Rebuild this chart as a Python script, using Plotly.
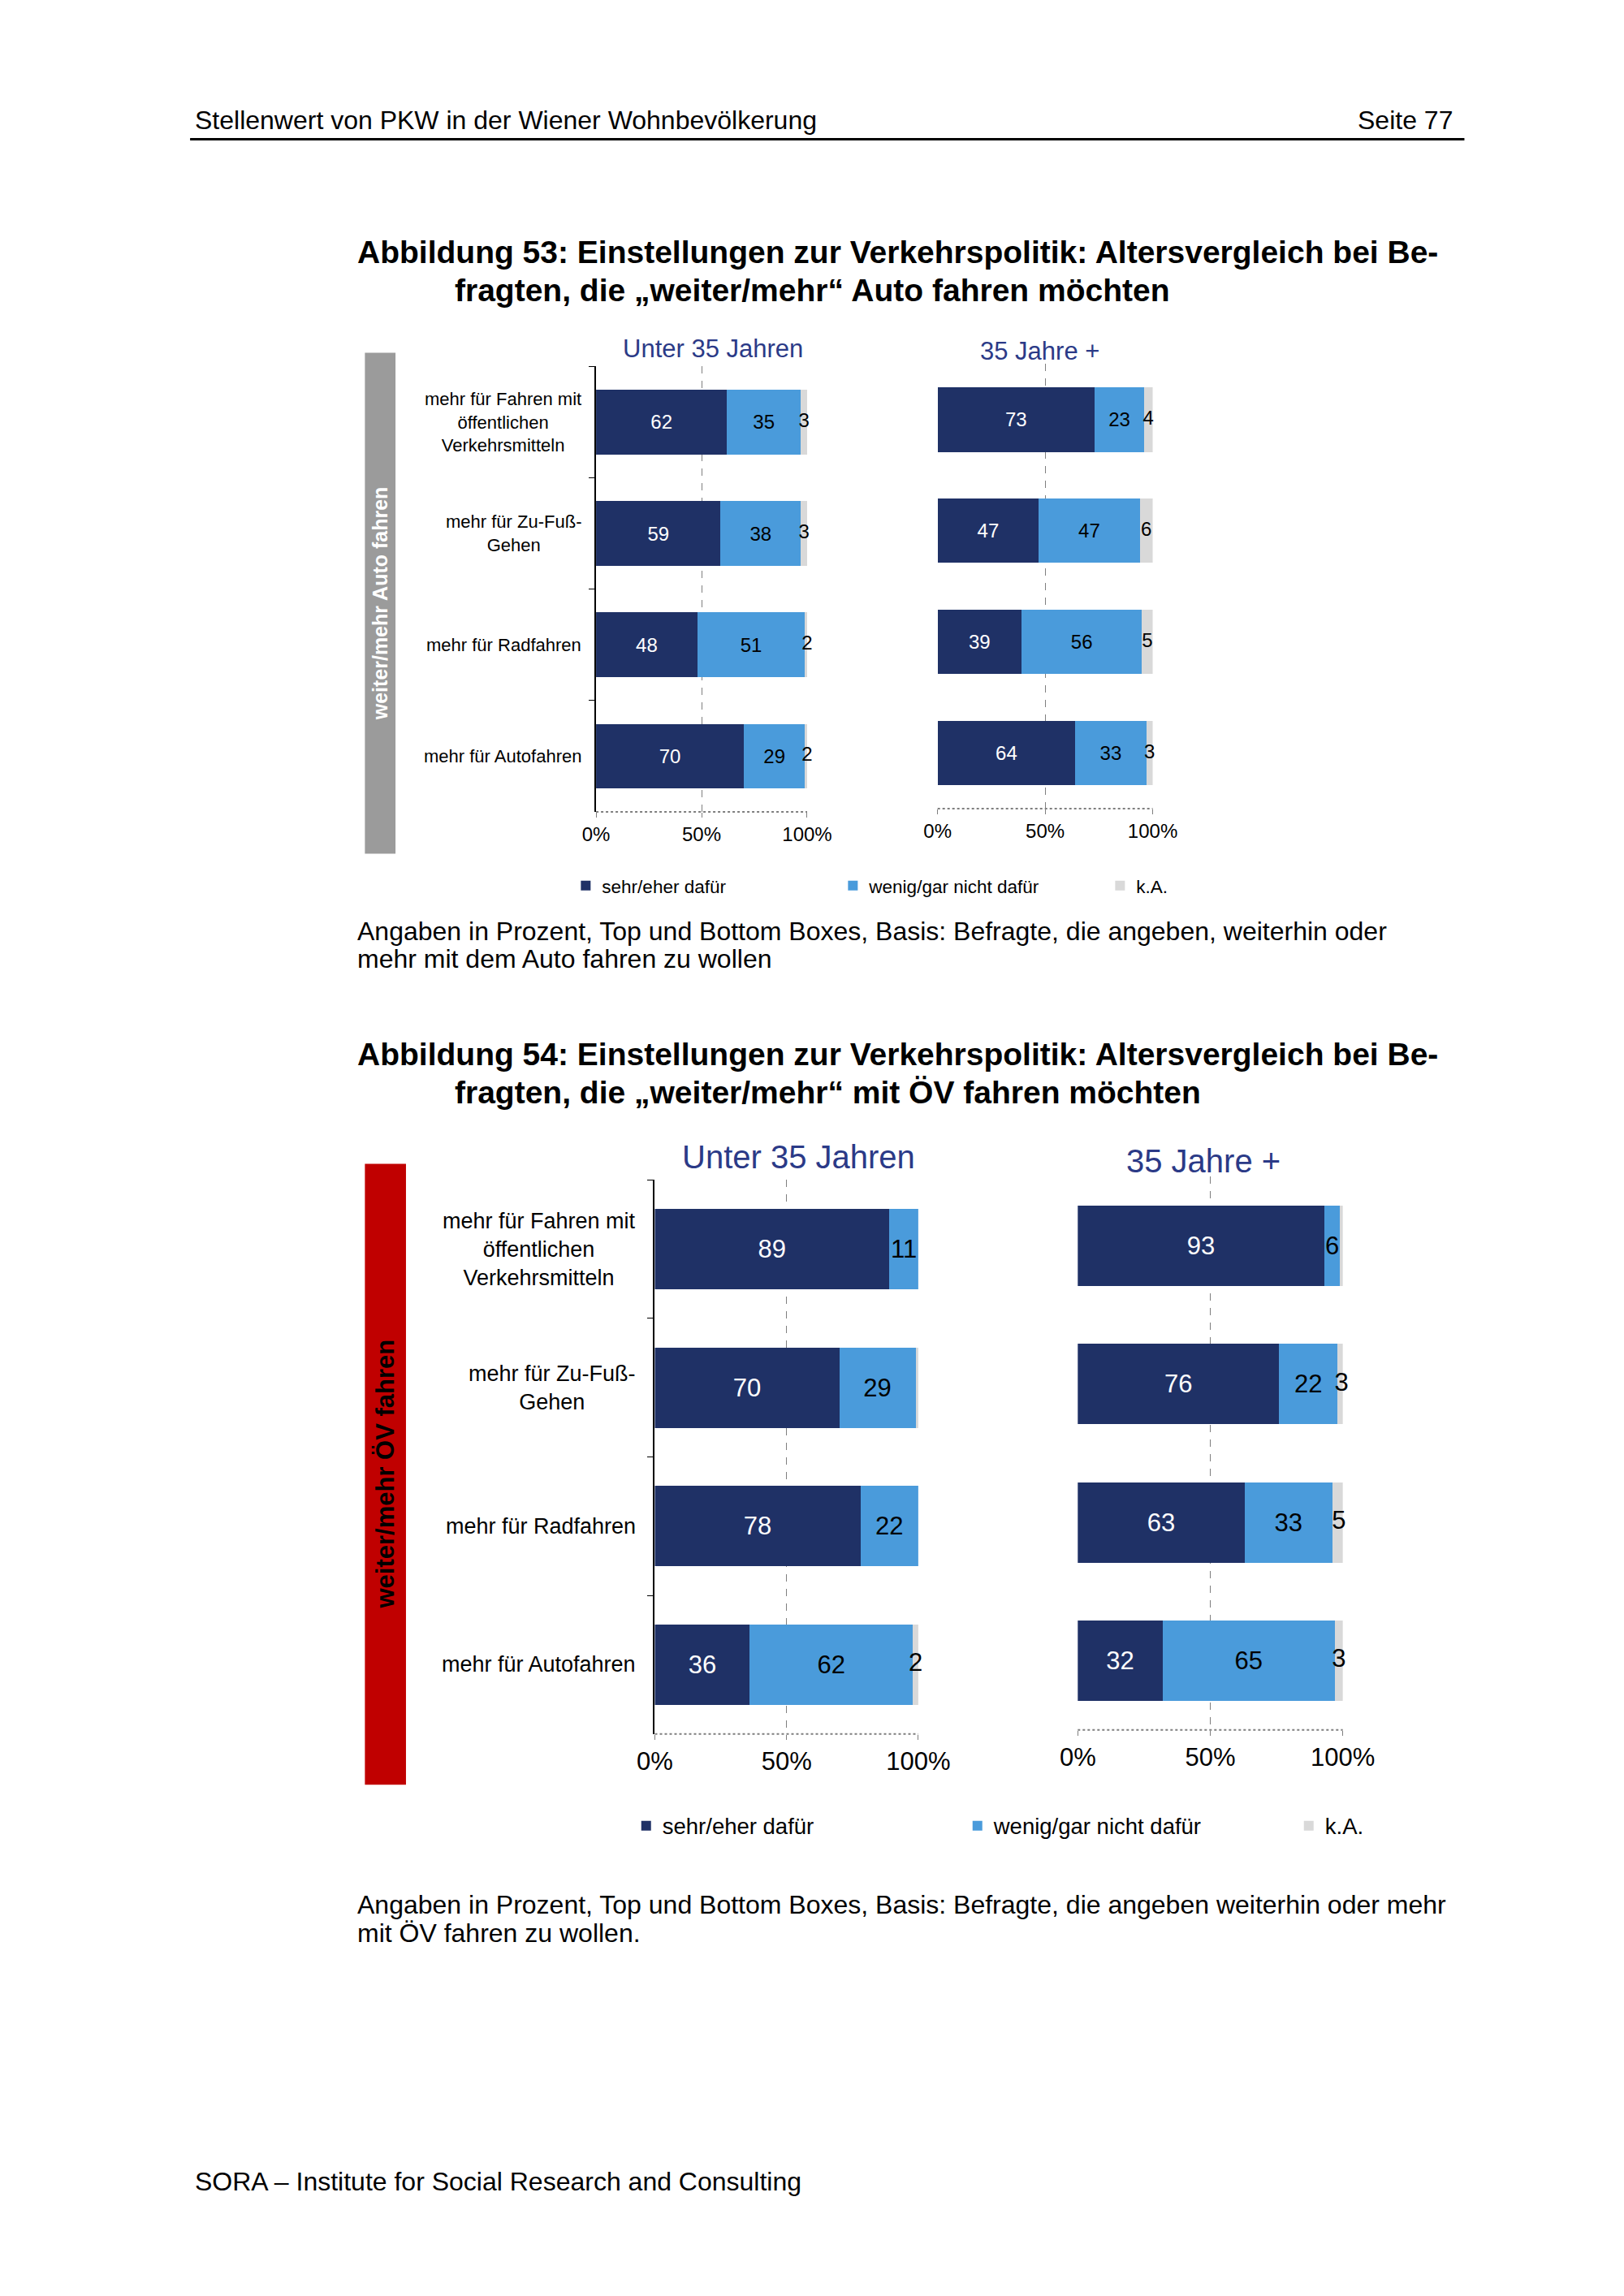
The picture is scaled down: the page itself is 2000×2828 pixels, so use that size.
import plotly.graph_objects as go

# Seite 2000x2828, abzüglich 8px Rand des Browsers
OFF = 8
K = 0.992
W, H = 2000 - 2 * OFF, 2828 - 2 * OFF

# Daten
kategorien = ["Fahren_OEV", "Zu_Fuss", "Radfahren", "Autofahren"]
kat_labels = ["mehr für Fahren mit<br>öffentlichen<br>Verkehrsmitteln",
              "mehr für Zu-Fuß-<br>Gehen",
              "mehr für Radfahren",
              "mehr für Autofahren"]
serien = ["sehr/eher dafür", "wenig/gar nicht dafür", "k.A."]

# Abbildung 53: weiter/mehr Auto fahren
auto_u35_dafuer = [62, 59, 48, 70]
auto_u35_nicht = [35, 38, 51, 29]
auto_u35_ka = [3, 3, 2, 2]
auto_35p_dafuer = [73, 47, 39, 64]
auto_35p_nicht = [23, 47, 56, 33]
auto_35p_ka = [4, 6, 5, 3]

# Abbildung 54: weiter/mehr ÖV fahren
oev_u35_dafuer = [89, 70, 78, 36]
oev_u35_nicht = [11, 29, 22, 62]
oev_u35_ka = [0, 1, 0, 2]
oev_35p_dafuer = [93, 76, 63, 32]
oev_35p_nicht = [6, 22, 33, 65]
oev_35p_ka = [1, 3, 5, 3]

x_ticks = [0, 50, 100]
x_ticktext = ["0%", "50%", "100%"]

farben = ["#1F3166", "#4A9BDB", "#D9D9D9"]
textfarben = ["white", "black", "black"]
FONT = "Liberation Sans"
TXT = 32


def px_x(p):
    return (p * K - OFF) / W


def px_y(p):
    return 1 - (p * K - OFF) / H


fig = go.Figure()

# Panels: (achsen-id, daten, x-pixel, y-pixel, legende, schrift, erste Spalte?, label-abstand, label-schrift)
panels = [
    ("", [auto_u35_dafuer, auto_u35_nicht, auto_u35_ka], (740, 1002), (455, 1008), "legend", 24, True, 16, 22),
    ("2", [auto_35p_dafuer, auto_35p_nicht, auto_35p_ka], (1164, 1431), (452, 1004), "legend", 24, False, 0, 0),
    ("3", [oev_u35_dafuer, oev_u35_nicht, oev_u35_ka], (813, 1140), (1465, 2153), "legend2", 31, True, 22, 27),
    ("4", [oev_35p_dafuer, oev_35p_nicht, oev_35p_ka], (1338, 1667), (1461, 2148), "legend2", 31, False, 0, 0),
]

for ax, daten, (x0, x1), (y0, y1), leg, fs, erste, abst, lfs in panels:
    for i, werte in enumerate(daten):
        labels = [str(v) for v in werte] if i < 2 else None
        fig.add_trace(go.Bar(
            y=kategorien, x=werte, orientation="h",
            name=serien[i], marker=dict(color=farben[i], line=dict(width=0)),
            text=labels, textposition="inside" if i < 2 else "none",
            insidetextanchor="middle", constraintext="none", cliponaxis=False,
            textfont=dict(color=textfarben[i], size=fs, family=FONT),
            xaxis="x" + ax, yaxis="y" + ax, legend=leg,
            showlegend=erste, hoverinfo="skip",
        ))
    # k.A.-Beschriftung mittig auf dem grauen Segment
    d, n, ka = daten
    fig.add_trace(go.Scatter(
        y=kategorien, x=[a + b + c / 2 for a, b, c in zip(d, n, ka)],
        mode="text", text=[str(c) if c >= 2 else "" for c in ka],
        textposition="middle center", cliponaxis=False,
        textfont=dict(color="black", size=fs, family=FONT),
        xaxis="x" + ax, yaxis="y" + ax, showlegend=False, hoverinfo="skip",
    ))
    fig.update_layout(**{
        "xaxis" + ax: dict(
            domain=[px_x(x0), px_x(x1)], range=[0, 100], anchor="y" + ax,
            tickvals=x_ticks, ticktext=x_ticktext,
            tickfont=dict(size=fs, color="black", family=FONT),
            showgrid=True, gridcolor="#7f7f7f", griddash="dash", gridwidth=1,
            zeroline=True, zerolinecolor="rgba(0,0,0,0)",
            showline=False, ticks="outside", ticklen=6, tickcolor="#7f7f7f",
            fixedrange=True,
        ),
        "yaxis" + ax: dict(
            domain=[px_y(y1), px_y(y0)], anchor="x" + ax,
            categoryorder="array", categoryarray=kategorien,
            autorange="reversed", showticklabels=False,
            showline=erste, linecolor="black", linewidth=2,
            ticks="outside" if erste else "", tickson="boundaries",
            ticklen=7, tickcolor="black", showgrid=False,
        ),
    })
    # gepunktete Grundlinie
    fig.add_shape(type="line", xref="x" + ax + " domain", yref="y" + ax + " domain",
                  x0=0, x1=1, y0=0, y1=0,
                  line=dict(color="#7f7f7f", width=2, dash="dot"))
    if erste:
        for k, lab in zip(kategorien, kat_labels):
            fig.add_annotation(text=lab, xref="paper", yref="y" + ax,
                               x=px_x(x0 - abst), y=k, xanchor="right", yanchor="middle",
                               align="center", showarrow=False,
                               font=dict(size=lfs, color="black", family=FONT))

fig.update_layout(
    barmode="stack", bargap=0.42,
    width=W, height=H, margin=dict(l=0, r=0, t=0, b=0, autoexpand=False),
    paper_bgcolor="white", plot_bgcolor="white",
    font=dict(family=FONT, color="black"),
    legend=dict(orientation="h", x=px_x(707), y=px_y(1100), xanchor="left", yanchor="middle",
                entrywidth=284, entrywidthmode="pixels", traceorder="normal",
                font=dict(size=22.5, family=FONT), itemwidth=30, bgcolor="rgba(0,0,0,0)"),
    legend2=dict(orientation="h", x=px_x(782), y=px_y(2267), xanchor="left", yanchor="middle",
                 entrywidth=363, entrywidthmode="pixels", traceorder="normal",
                 font=dict(size=27.5, family=FONT), itemwidth=30, bgcolor="rgba(0,0,0,0)"),
)

# Seitenkopf und -fuß
fig.add_shape(type="line", xref="paper", yref="paper", x0=px_x(236), x1=px_x(1818),
              y0=px_y(173), y1=px_y(173), line=dict(color="black", width=3))
fig.add_annotation(text="Stellenwert von PKW in der Wiener Wohnbevölkerung", xref="paper", yref="paper",
                   x=px_x(240), y=px_y(149), xanchor="left", yanchor="middle", showarrow=False,
                   font=dict(size=TXT, family=FONT))
fig.add_annotation(text="Seite 77", xref="paper", yref="paper",
                   x=px_x(1805), y=px_y(149), xanchor="right", yanchor="middle", showarrow=False,
                   font=dict(size=TXT, family=FONT))
fig.add_annotation(text="SORA – Institute for Social Research and Consulting", xref="paper", yref="paper",
                   x=px_x(240), y=px_y(2709), xanchor="left", yanchor="middle", showarrow=False,
                   font=dict(size=TXT, family=FONT))

# Abbildungstitel
titel = [
    ("Abbildung 53: Einstellungen zur Verkehrspolitik: Altersvergleich bei Be-", 442, 313),
    ("fragten, die „weiter/mehr“ Auto fahren möchten", 562, 360),
    ("Abbildung 54: Einstellungen zur Verkehrspolitik: Altersvergleich bei Be-", 442, 1309),
    ("fragten, die „weiter/mehr“ mit ÖV fahren möchten", 562, 1356),
]
for t, x, y in titel:
    fig.add_annotation(text="<b>" + t + "</b>", xref="paper", yref="paper",
                       x=px_x(x), y=px_y(y), xanchor="left", yanchor="middle", showarrow=False,
                       font=dict(size=39, family=FONT))

# Fußnoten
notizen = [
    ("Angaben in Prozent, Top und Bottom Boxes, Basis: Befragte, die angeben, weiterhin oder", 1156),
    ("mehr mit dem Auto fahren zu wollen", 1191),
    ("Angaben in Prozent, Top und Bottom Boxes, Basis: Befragte, die angeben weiterhin oder mehr", 2365),
    ("mit ÖV fahren zu wollen.", 2400),
]
for t, y in notizen:
    fig.add_annotation(text=t, xref="paper", yref="paper",
                       x=px_x(442), y=px_y(y), xanchor="left", yanchor="middle", showarrow=False,
                       font=dict(size=TXT, family=FONT))

# Paneltitel
paneltitel = [
    ("Unter 35 Jahren", 885, 433, 31),
    ("35 Jahre +", 1291, 436, 31),
    ("Unter 35 Jahren", 991, 1436, 40),
    ("35 Jahre +", 1494, 1442, 40),
]
for t, x, y, s in paneltitel:
    fig.add_annotation(text=t, xref="paper", yref="paper",
                       x=px_x(x), y=px_y(y), xanchor="center", yanchor="middle", showarrow=False,
                       font=dict(size=s, family=FONT, color="#2B3A87"))

# seitliche Balken
seiten = [
    ("weiter/mehr Auto fahren", "#9B9B9B", "white", (453, 491), (438, 1060), 25),
    ("weiter/mehr ÖV fahren", "#C00000", "black", (453, 504), (1445, 2216), 31),
]
for t, bg, fg, (x0, x1), (y0, y1), s in seiten:
    fig.add_shape(type="rect", xref="paper", yref="paper", x0=px_x(x0), x1=px_x(x1),
                  y0=px_y(y1), y1=px_y(y0), fillcolor=bg, line=dict(width=0), layer="below")
    fig.add_annotation(text="<b>" + t + "</b>", xref="paper", yref="paper",
                       x=px_x((x0 + x1) / 2), y=px_y((y0 + y1) / 2), textangle=-90,
                       xanchor="center", yanchor="middle", showarrow=False,
                       font=dict(size=s, family=FONT, color=fg))

fig.write_html("out.html")
